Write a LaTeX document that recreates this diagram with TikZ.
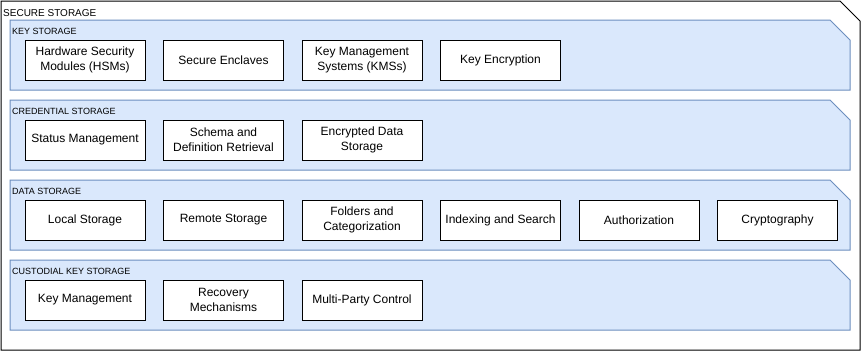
\documentclass[tikz,border=0pt]{standalone}
\usepackage{fontspec}
\setmainfont{Liberation Sans}
\usepackage{xcolor}
\usetikzlibrary{positioning}

\definecolor{bandfill}{HTML}{DAE8FC}
\definecolor{bandline}{HTML}{6C8EBF}

\begin{document}
\begin{tikzpicture}[x=1pt, y=-1pt, node distance=17.5pt,
    item/.style = {draw, fill=white, line width=1pt, minimum width=120pt, minimum height=40pt, inner sep=1pt, align=center, font=\fontsize{12}{15}\selectfont},
    band/.style = {draw=bandline, fill=bandfill, line width=1pt},
    bandlabel/.style = {anchor=west, inner sep=0pt, font=\fontsize{9}{10}\selectfont},
    outer/.style = {draw=black, fill=white, line width=1pt}]

\useasboundingbox (0,0) rectangle (861,351);

% outer container
\draw[outer] (1,1) -- (840,1) -- (860,21) -- (860,350) -- (1,350) -- cycle;
\node[bandlabel, font=\fontsize{10}{12}\selectfont] (secure) at (3,13) {SECURE STORAGE};

% layers
\foreach \t/\lab/\nm in {20/KEY STORAGE/keyst, 100/CREDENTIAL STORAGE/credst, 180/DATA STORAGE/datast, 260/CUSTODIAL KEY STORAGE/custst}{
    \draw[band] (10,\t) -- (830,\t) -- (850,\t+20) -- (850,\t+70) -- (10,\t+70) -- cycle;
    \node[bandlabel] (\nm) at (12,\t+11) {\lab};
}

% key storage
\node[item] (hsm) at (85,60) {Hardware Security\\Modules (HSMs)};
\node[item] (enclave) [right=of hsm] {Secure Enclaves};
\node[item] (kms) [right=of enclave] {Key Management\\Systems (KMSs)};
\node[item] (keyenc) [right=of kms] {Key Encryption};

% credential storage
\node[item] (status) at (85,140) {Status Management};
\node[item] (schema) [right=of status] {Schema and\\Definition Retrieval};
\node[item] (encdata) [right=of schema] {Encrypted Data\\Storage};

% data storage
\node[item] (local) at (85,220) {Local Storage};
\node[item] (remote) [right=of local] {Remote Storage};
\node[item] (folders) [right=of remote] {Folders and\\Categorization};
\node[item] (index) [right=of folders] {Indexing and Search};
\node[item] (authz) [right=of index] {Authorization};
\node[item] (crypto) [right=of authz] {Cryptography};

% custodial key storage
\node[item] (keymgmt) at (85,300) {Key Management};
\node[item] (recovery) [right=of keymgmt] {Recovery\\Mechanisms};
\node[item] (mpc) [right=of recovery] {Multi-Party Control};
\end{tikzpicture}
\end{document}
